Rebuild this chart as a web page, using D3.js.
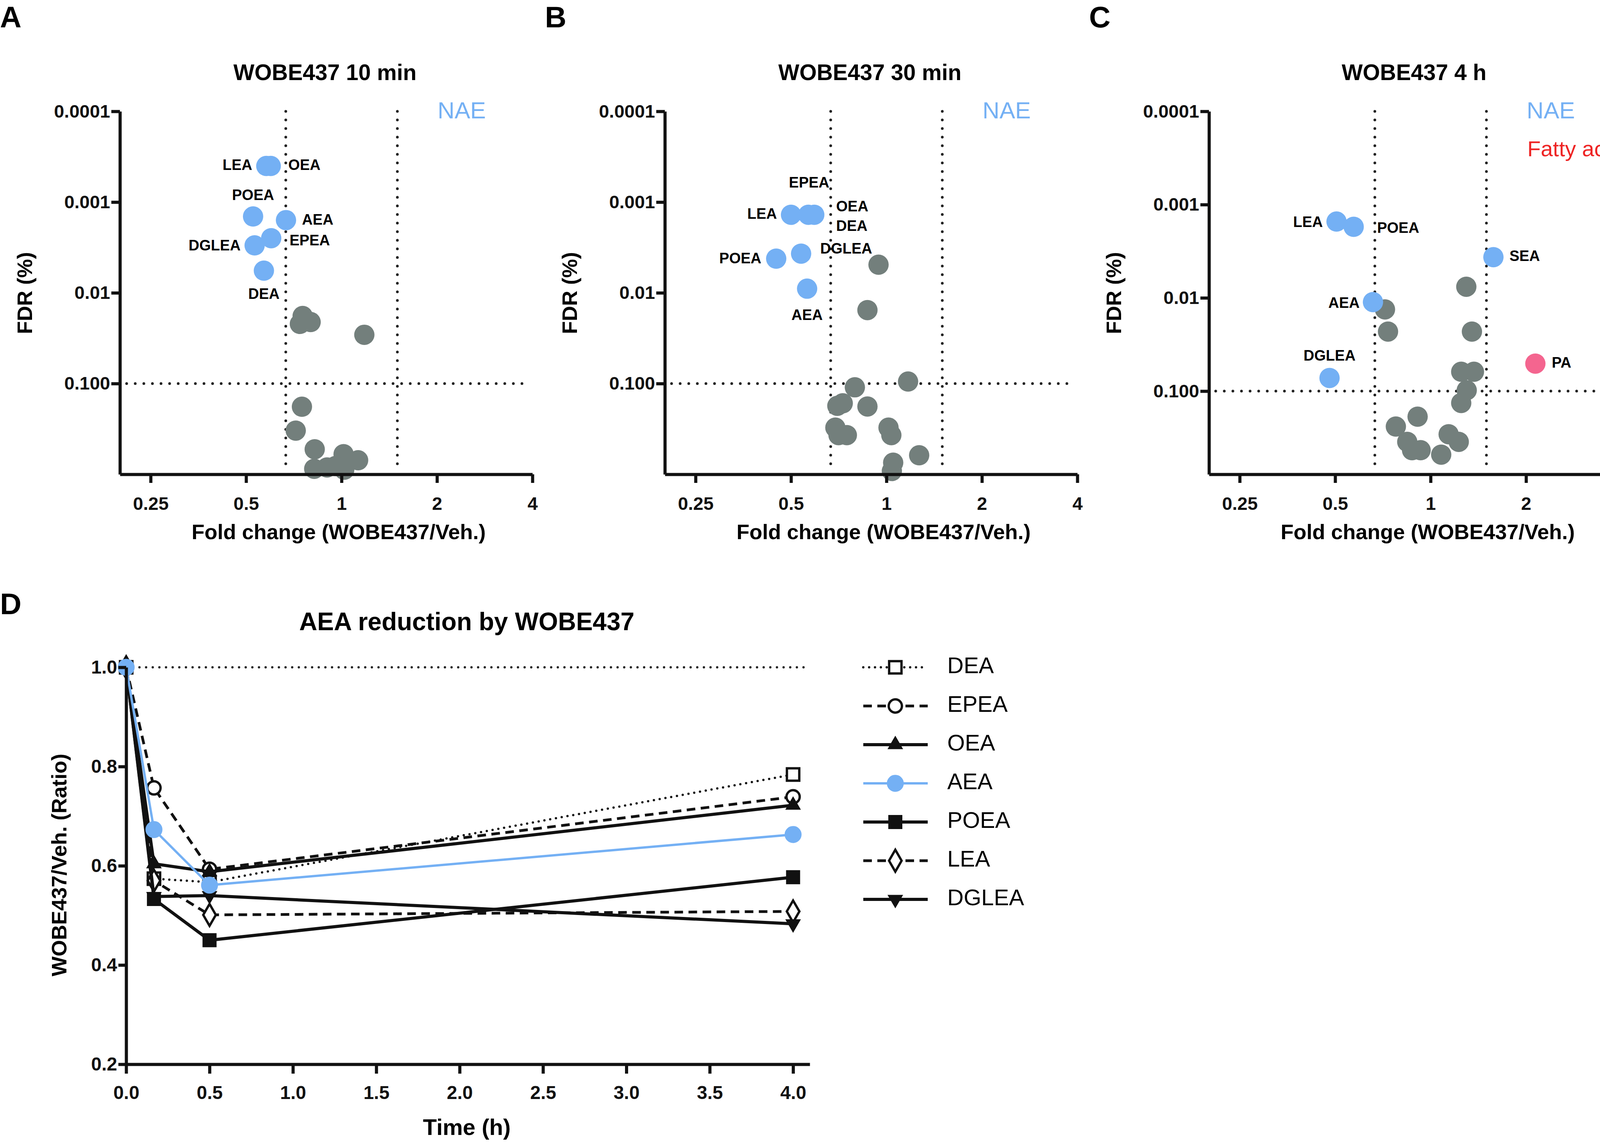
<!DOCTYPE html>
<html><head><meta charset="utf-8">
<script src="https://cdn.jsdelivr.net/npm/d3@7"></script>
<style>html,body{margin:0;padding:0;background:#fff;overflow:hidden}svg{display:block;font-family:"Liberation Sans",Arial,sans-serif}</style>
</head><body>
<svg id="fig" width="4183" height="2923"></svg>
<script>
// Volcano data: [name, fold change, FDR (%), class]
const pts10min = [
  ["LEA",0.579,0.0004,"nae"],["OEA",0.598,0.0004,"nae"],["POEA",0.526,0.00144,"nae"],
  ["AEA",0.668,0.00158,"nae"],["EPEA",0.600,0.0025,"nae"],["DGLEA",0.532,0.0030,"nae"],
  ["DEA",0.569,0.0057,"nae"],
  ["",0.754,0.018,"o"],["",0.739,0.022,"o"],["",0.799,0.021,"o"],["",1.18,0.029,"o"],
  ["",0.750,0.18,"o"],["",0.717,0.33,"o"],["",0.823,0.53,"o"],["",1.015,0.60,"o"],
  ["",1.128,0.70,"o"],["",0.82,0.87,"o"],["",0.90,0.84,"o"],["",0.958,0.81,"o"],["",1.02,0.89,"o"]
];
const pts30min = [
  ["LEA",0.50,0.00138,"nae"],["EPEA",0.567,0.00138,"nae"],["OEA",0.592,0.00138,"nae"],
  ["POEA",0.449,0.0042,"nae"],["DGLEA",0.538,0.0037,"nae"],["AEA",0.562,0.009,"nae"],
  ["",0.944,0.0049,"o"],["",0.871,0.0155,"o"],["",1.17,0.095,"o"],["",0.795,0.11,"o"],
  ["",0.70,0.176,"o"],["",0.728,0.165,"o"],["",0.871,0.179,"o"],["",0.69,0.306,"o"],
  ["",0.706,0.37,"o"],["",0.75,0.37,"o"],["",1.015,0.306,"o"],["",1.036,0.37,"o"],
  ["",1.268,0.617,"o"],["",1.05,0.745,"o"],["",1.04,0.92,"o"]
];
const pts4h = [
  ["LEA",0.505,0.00152,"nae"],["POEA",0.572,0.00173,"nae"],["SEA",1.578,0.00366,"nae"],
  ["AEA",0.658,0.0111,"nae"],["DGLEA",0.48,0.0723,"nae"],["PA",2.14,0.0507,"fa"],
  ["",1.296,0.0076,"o"],["",0.718,0.0133,"o"],["",0.734,0.023,"o"],["",1.35,0.023,"o"],
  ["",1.249,0.062,"o"],["",1.37,0.062,"o"],["",1.30,0.098,"o"],["",1.249,0.134,"o"],
  ["",0.91,0.188,"o"],["",0.777,0.24,"o"],["",0.844,0.35,"o"],["",0.874,0.43,"o"],
  ["",0.93,0.43,"o"],["",1.14,0.29,"o"],["",1.227,0.35,"o"],["",1.08,0.48,"o"]
];
const foldTicks = [0.25,0.5,1,2,4];
const fdrTicks = [0.0001,0.001,0.01,0.1];
const fdrTickLabels = ["0.0001","0.001","0.01","0.100"];

// Time course
const times = [0, 1/6, 0.5, 4];
const lipids = ["DEA","EPEA","OEA","AEA","POEA","LEA","DGLEA"];
const ratios = {
  DEA:   [1, 0.574, 0.567, 0.784],
  EPEA:  [1, 0.757, 0.593, 0.739],
  OEA:   [1, 0.604, 0.588, 0.722],
  AEA:   [1, 0.673, 0.561, 0.663],
  POEA:  [1, 0.533, 0.450, 0.577],
  LEA:   [1, 0.570, 0.501, 0.508],
  DGLEA: [1, 0.538, 0.540, 0.483]
};

// label layout [anchor, dx, dy]
const labelPos = {
  A: {LEA:["end",-36,0],OEA:["start",45,0],POEA:["middle",0,-52],AEA:["start",41,2],
      EPEA:["start",47,8],DGLEA:["end",-36,3],DEA:["middle",0,62]},
  B: {LEA:["end",-36,0],EPEA:["middle",2,-80],OEA:["start",56,-19],POEA:["end",-38,2],
      DGLEA:["start",49,-10],AEA:["middle",0,70]},
  C: {LEA:["end",-35,4],POEA:["start",60,5],SEA:["start",41,0],AEA:["end",-34,5],
      DGLEA:["middle",0,-54],PA:["start",42,0]}
};
const extraLabelsB = [["DEA","start",56,31]]; // DEA drawn under OEA in panel B

const BLUE = "#74b0f4", GREY = "#737f7c", PINK = "#f4658f";
const svg = d3.select("#fig");
const dotted = "0 22";

function volcano(data, cfg) {
  const g = svg.append("g");
  const x = d3.scaleLog().base(2).domain([0.2, 4]).range([cfg.left, cfg.left + 1056]);
  const y = d3.scaleLog().domain([0.0001, cfg.ymax]).range([285, 1214]);

  // threshold lines
  [0.667, 1.5].forEach(v => g.append("line")
    .attr("x1", x(v)).attr("x2", x(v)).attr("y1", y(0.0001)).attr("y2", 1200)
    .attr("stroke", "#222").attr("stroke-width", 7).attr("stroke-linecap", "round")
    .attr("stroke-dasharray", dotted));
  g.append("line").attr("x1", x(0.21)).attr("x2", x(3.9)).attr("y1", y(0.1)).attr("y2", y(0.1))
    .attr("stroke", "#222").attr("stroke-width", 7).attr("stroke-linecap", "round")
    .attr("stroke-dasharray", dotted);

  const col = c => c === "nae" ? BLUE : c === "fa" ? PINK : GREY;
  // grey first, then coloured
  const sorted = data.slice().sort((a, b) => (a[3] === "o" ? 0 : 1) - (b[3] === "o" ? 0 : 1));
  g.selectAll("circle.pt").data(sorted).join("circle")
    .attr("cx", d => x(d[1])).attr("cy", d => y(d[2])).attr("r", 26)
    .attr("fill", d => col(d[3]));

  const lp = labelPos[cfg.id];
  g.selectAll("text.lab").data(data.filter(d => d[0])).join("text")
    .attr("x", d => x(d[1]) + lp[d[0]][1]).attr("y", d => y(d[2]) + lp[d[0]][2])
    .attr("text-anchor", d => lp[d[0]][0]).attr("dominant-baseline", "middle")
    .style("font-size", "38px").style("font-weight", "bold").text(d => d[0]);
  if (cfg.id === "B") extraLabelsB.forEach(e => {
    const p = data.find(d => d[0] === "OEA");
    g.append("text").attr("x", x(p[1]) + e[2]).attr("y", y(p[2]) + e[3])
      .attr("text-anchor", e[1]).attr("dominant-baseline", "middle")
      .style("font-size", "38px").style("font-weight", "bold").text(e[0]);
  });

  // axes
  const xa = g.append("g").attr("transform", "translate(0,1214)")
    .call(d3.axisBottom(x).tickValues(foldTicks).tickFormat(d3.format("")).tickSize(22).tickSizeOuter(0));
  const ya = g.append("g").attr("transform", `translate(${cfg.left},0)`)
    .call(d3.axisLeft(y).tickValues(fdrTicks).tickFormat((d, i) => fdrTickLabels[i]).tickSize(22).tickSizeOuter(0));
  [xa, ya].forEach(a => {
    a.select(".domain").attr("stroke-width", 8).attr("stroke", "#111");
    a.selectAll(".tick line").attr("stroke-width", 8).attr("stroke", "#111");
    a.selectAll("text").style("font-size", "47px").style("font-weight", "bold")
      .style("font-family", "Liberation Sans").attr("fill", "#111");
  });
  xa.selectAll("text").attr("dy", "1.4em");

  g.append("text").attr("x", cfg.left + 560).attr("y", 1380).attr("text-anchor", "middle")
    .style("font-size", "54px").style("font-weight", "bold").text("Fold change (WOBE437/Veh.)");
  g.append("text").attr("transform", `translate(${cfg.left - 225},750) rotate(-90)`)
    .attr("text-anchor", "middle").style("font-size", "54px").style("font-weight", "bold").text("FDR (%)");
  g.append("text").attr("x", cfg.left + 525).attr("y", 205).attr("text-anchor", "middle")
    .style("font-size", "57px").style("font-weight", "bold").text(cfg.title);
  g.append("text").attr("x", cfg.left - 307).attr("y", 70)
    .style("font-size", "76px").style("font-weight", "bold").text(cfg.id);
  g.append("text").attr("x", cfg.left + 875).attr("y", 287).attr("text-anchor", "middle")
    .attr("dominant-baseline", "middle").style("font-size", "60px").attr("fill", BLUE).text("NAE");
  if (cfg.id === "C") g.append("text").attr("x", cfg.left + 815).attr("y", 385)
    .attr("dominant-baseline", "middle").style("font-size", "56px").attr("fill", "#ee2424").text("Fatty acid");
}

volcano(pts10min, {id: "A", left: 307, ymax: 1, title: "WOBE437 10 min"});
volcano(pts30min, {id: "B", left: 1702, ymax: 1, title: "WOBE437 30 min"});
volcano(pts4h, {id: "C", left: 3095, ymax: 0.78, title: "WOBE437 4 h"});

// Panel D
const styles = {
  DEA:   {dash: "0 15", w: 6, sym: d3.symbolSquare, fill: "#fff", c: "#111", size: 1000},
  EPEA:  {dash: "22 14", w: 7, sym: d3.symbolCircle, fill: "#fff", c: "#111", size: 900},
  OEA:   {dash: null, w: 8, sym: d3.symbolTriangle, fill: "#111", c: "#111", size: 380},
  AEA:   {dash: null, w: 6, sym: d3.symbolCircle, fill: BLUE, c: BLUE, size: 1100},
  POEA:  {dash: null, w: 8, sym: d3.symbolSquare, fill: "#111", c: "#111", size: 900},
  LEA:   {dash: "22 14", w: 7, sym: d3.symbolDiamond, fill: "#fff", c: "#111", size: 900},
  DGLEA: {dash: null, w: 8, sym: d3.symbolTriangle, fill: "#111", c: "#111", size: 380, rot: 180}
};
const gd = svg.append("g");
const xd = d3.scaleLinear().domain([0, 4.1]).range([323, 2073]);
const yd = d3.scaleLinear().domain([0.2, 1.0]).range([2724, 1708]);

gd.append("line").attr("x1", xd(0)).attr("x2", xd(4.1)).attr("y1", yd(1)).attr("y2", yd(1))
  .attr("stroke", "#222").attr("stroke-width", 6).attr("stroke-linecap", "round").attr("stroke-dasharray", "0 17");

const line = d3.line().x((d, i) => xd(times[i])).y(d => yd(d));
const drawOrder = ["DEA","EPEA","LEA","OEA","POEA","DGLEA","AEA"];
drawOrder.forEach(k => {
  const s = styles[k];
  gd.append("path").attr("d", line(ratios[k])).attr("fill", "none").attr("stroke", s.c)
    .attr("stroke-width", s.w).attr("stroke-dasharray", s.dash)
    .attr("stroke-linecap", s.dash === "0 15" ? "round" : "butt");
  gd.selectAll(null).data(ratios[k]).join("path")
    .attr("transform", (d, i) => `translate(${xd(times[i])},${yd(d)}) rotate(${s.rot || 0})`)
    .attr("d", d3.symbol(s.sym, s.size)).attr("fill", s.fill).attr("stroke", s.c).attr("stroke-width", 6);
});

const xda = gd.append("g").attr("transform", `translate(0,${yd(0.2)})`)
  .call(d3.axisBottom(xd).tickValues(d3.range(0, 4.01, 0.5)).tickFormat(d3.format(".1f")).tickSize(24).tickSizeOuter(0));
const yda = gd.append("g").attr("transform", `translate(${xd(0)},0)`)
  .call(d3.axisLeft(yd).tickValues([0.2,0.4,0.6,0.8,1.0]).tickFormat(d3.format(".1f")).tickSize(20).tickSizeOuter(0));
[xda, yda].forEach(a => {
  a.select(".domain").attr("stroke-width", 8).attr("stroke", "#111");
  a.selectAll(".tick line").attr("stroke-width", 8).attr("stroke", "#111");
  a.selectAll("text").style("font-size", "48px").style("font-weight", "bold")
    .style("font-family", "Liberation Sans").attr("fill", "#111");
});
xda.selectAll("text").attr("dy", "1.3em");

gd.append("text").attr("x", 1195).attr("y", 1613).attr("text-anchor", "middle")
  .style("font-size", "64px").style("font-weight", "bold").text("AEA reduction by WOBE437");
gd.append("text").attr("x", 0).attr("y", 1572).style("font-size", "76px").style("font-weight", "bold").text("D");
gd.append("text").attr("x", 1195).attr("y", 2905).attr("text-anchor", "middle")
  .style("font-size", "58px").style("font-weight", "bold").text("Time  (h)");
gd.append("text").attr("transform", "translate(170,2214) rotate(-90)").attr("text-anchor", "middle")
  .style("font-size", "54px").style("font-weight", "bold").text("WOBE437/Veh. (Ratio)");

// legend
const lg = gd.append("g").attr("transform", "translate(2210,1708)");
lipids.forEach((k, i) => {
  const s = styles[k];
  const row = lg.append("g").attr("transform", `translate(0,${i * 99})`);
  row.append("line").attr("x1", 0).attr("x2", 165).attr("stroke", s.c).attr("stroke-width", s.w)
    .attr("stroke-dasharray", s.dash).attr("stroke-linecap", s.dash === "0 15" ? "round" : "butt");
  row.append("path").attr("transform", `translate(82,0) rotate(${s.rot || 0})`)
    .attr("d", d3.symbol(s.sym, s.size)).attr("fill", s.fill).attr("stroke", s.c).attr("stroke-width", 6);
  row.append("text").attr("x", 215).attr("dominant-baseline", "middle")
    .style("font-size", "58px").text(k);
});
</script>
</body></html>
